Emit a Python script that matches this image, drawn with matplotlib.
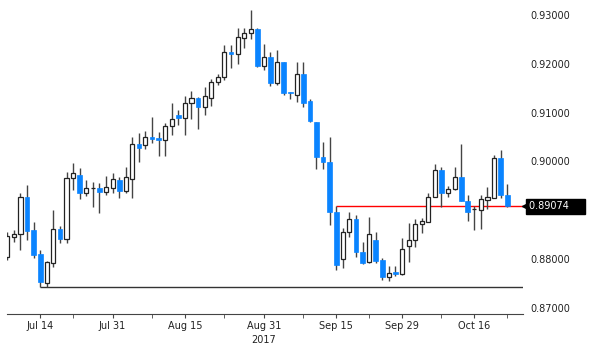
import numpy as np
import matplotlib.pyplot as plt

# daily OHLC, trading-day index 0 = Jul 7 2017 ... 76 = Oct 23 2017
opens = [0.88039, 0.88448, 0.88510, 0.89269, 0.88592, 0.88100, 0.87505, 0.87916, 0.88612, 0.88407,
         0.89657, 0.89719, 0.89352, 0.89453, 0.89453, 0.89371, 0.89453, 0.89617, 0.89392, 0.89637,
         0.90355, 0.90334, 0.90499, 0.90478, 0.90437, 0.90724, 0.90950, 0.90888, 0.91196, 0.91298,
         0.91114, 0.91298, 0.91626, 0.91729, 0.92241, 0.92200, 0.92528, 0.92630, 0.92712, 0.91954,
         0.92139, 0.91606, 0.92036, 0.91421, 0.91359, 0.91790, 0.91237, 0.90806, 0.90089, 0.89986,
         0.88961, 0.88000, 0.88551, 0.88817, 0.88141, 0.87936, 0.88387, 0.87977, 0.87629, 0.87731,
         0.87690, 0.88264, 0.88387, 0.88715, 0.88756, 0.89269, 0.89822, 0.89352, 0.89432, 0.89678,
         0.89187, 0.89022, 0.89002, 0.89207, 0.89248, 0.90068, 0.89310]
highs = [0.88551, 0.88592, 0.89352, 0.89515, 0.88756, 0.88182, 0.87957, 0.89002, 0.88674, 0.89781,
         0.89965, 0.89863, 0.89617, 0.89576, 0.89556, 0.89699, 0.89760, 0.89678, 0.89883, 0.90499,
         0.90580, 0.90622, 0.90909, 0.90601, 0.90786, 0.91196, 0.91052, 0.91339, 0.91442, 0.91319,
         0.91524, 0.91688, 0.91790, 0.92385, 0.92385, 0.92733, 0.92733, 0.93102, 0.92733, 0.92405,
         0.92241, 0.92282, 0.92036, 0.91421, 0.92036, 0.92036, 0.91278, 0.90806, 0.90396, 0.90499,
         0.89074, 0.88633, 0.88961, 0.88900, 0.88346, 0.88859, 0.88551, 0.88018, 0.87854, 0.87854,
         0.88428, 0.88735, 0.88817, 0.88838, 0.89352, 0.89945, 0.89883, 0.89494, 0.89883, 0.90355,
         0.89310, 0.89084, 0.89310, 0.89473, 0.90130, 0.90232, 0.89535]
lows = [0.87977, 0.88346, 0.88182, 0.88387, 0.88018, 0.87430, 0.87424, 0.87834, 0.88326, 0.88326,
        0.89412, 0.89228, 0.89289, 0.89064, 0.88940, 0.89310, 0.89352, 0.89248, 0.89352, 0.89248,
        0.89986, 0.90252, 0.90376, 0.90109, 0.90109, 0.90540, 0.90745, 0.90540, 0.90868, 0.90663,
        0.90950, 0.91134, 0.91565, 0.91667, 0.91913, 0.91995, 0.92323, 0.92507, 0.91934, 0.91872,
        0.91544, 0.91565, 0.91359, 0.91277, 0.91216, 0.91114, 0.90806, 0.89842, 0.89842, 0.88694,
        0.87772, 0.87813, 0.88448, 0.88039, 0.87895, 0.87916, 0.87916, 0.87567, 0.87546, 0.87649,
        0.87669, 0.87936, 0.88243, 0.88531, 0.88756, 0.89269, 0.89064, 0.89269, 0.89412, 0.89187,
        0.88776, 0.88592, 0.88612, 0.89022, 0.89248, 0.89248, 0.89054]
closes = [0.88469, 0.88510, 0.89269, 0.88572, 0.88080, 0.87526, 0.87936, 0.88612, 0.88407, 0.89657,
          0.89760, 0.89352, 0.89453, 0.89460, 0.89371, 0.89473, 0.89637, 0.89392, 0.89678, 0.90355,
          0.90273, 0.90499, 0.90457, 0.90437, 0.90724, 0.90868, 0.90888, 0.91196, 0.91298, 0.91114,
          0.91339, 0.91626, 0.91729, 0.92241, 0.92200, 0.92548, 0.92630, 0.92712, 0.91954, 0.92139,
          0.91606, 0.92036, 0.91400, 0.91400, 0.91790, 0.91196, 0.90827, 0.90089, 0.89986, 0.88961,
          0.87874, 0.88551, 0.88817, 0.88141, 0.87916, 0.88510, 0.87957, 0.87629, 0.87710, 0.87690,
          0.88202, 0.88387, 0.88715, 0.88777, 0.89269, 0.89822, 0.89352, 0.89432, 0.89678, 0.89187,
          0.88961, 0.89030, 0.89228, 0.89269, 0.90068, 0.89310, 0.89074]

tick_idx = [5, 16, 27, 39, 50, 60, 71]
tick_labels = ['Jul 14', 'Jul 31', 'Aug 15', 'Aug 31', 'Sep 15', 'Sep 29', 'Oct 16']
minor_idx = [10, 22, 33, 45, 55, 66, 76]
yticks = [0.87, 0.88, 0.90, 0.91, 0.92, 0.93]  # 0.89 is hidden under the price tag

support_level = 0.87426
support_start = 5
last_level = 0.89074
last_start = 50

blue = '#0A84FF'
plt.rcParams['font.family'] = 'DejaVu Sans'

fig = plt.figure(figsize=(6, 3.56), dpi=100)
ax = fig.add_axes([7/600, 42/356, 516/600, 314/356])

x = np.arange(len(opens))
o = np.array(opens)
h = np.array(highs)
l = np.array(lows)
c = np.array(closes)
up = c >= o

ax.vlines(x, l, h, color='#444444', lw=1, zorder=2)
body = np.maximum(np.abs(c - o), 0.00008)
bottom = np.minimum(o, c)
ax.bar(x[up], body[up], bottom=bottom[up], width=0.62, color='white',
       edgecolor='#222222', linewidth=0.9, zorder=3)
ax.bar(x[~up], body[~up], bottom=bottom[~up], width=0.72, color=blue,
       edgecolor=blue, linewidth=0.5, zorder=3)

xmax = 78.4
ax.hlines(support_level, support_start, xmax, color='#333333', lw=1, zorder=1)
ax.hlines(last_level, last_start, xmax, color='red', lw=1, zorder=1)

ax.set_xlim(-0.05, xmax)
ax.set_ylim(0.86870, 0.93307)

for s in ['top', 'left', 'right']:
    ax.spines[s].set_visible(False)
ax.spines['bottom'].set_color('#444444')

ax.set_xticks(tick_idx)
ax.set_xticklabels(tick_labels, fontsize=7, color='#222222')
ax.set_xticks(minor_idx, minor=True)
ax.tick_params(axis='x', which='both', direction='out', length=3, color='#444444', pad=2)

ax.yaxis.tick_right()
ax.set_yticks(yticks)
ax.set_yticklabels(['%.5f' % v for v in yticks], fontsize=7, color='#222222')
ax.tick_params(axis='y', length=0, pad=5)

ax.text(39, -0.068, '2017', transform=ax.get_xaxis_transform(), ha='center', va='top',
        fontsize=7, color='#222222')

# last price tag
ax.plot([1.003], [last_level], marker='<', color='black', markersize=5,
        transform=ax.get_yaxis_transform(), clip_on=False)
ax.annotate('%.5f    ' % last_level, xy=(1.0, last_level), xycoords=('axes fraction', 'data'),
            xytext=(4.5, 0), textcoords='offset points', ha='left', va='center',
            fontsize=7, color='white',
            bbox=dict(boxstyle='square,pad=0.3', fc='black', ec='black'))

fig.savefig('out.png', dpi=100)
